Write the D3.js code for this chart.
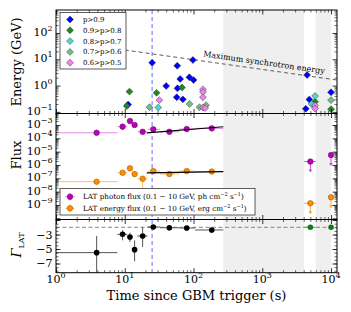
<!DOCTYPE html>
<html lang="en">
<head>
<meta charset="UTF-8">
<title>LAT light curve</title>
<script src="https://d3js.org/d3.v7.min.js"></script>
<style>
body{margin:0;background:#fff}
text{font-family:"DejaVu Serif",serif;fill:#000}
</style>
</head>
<body>
<script>
// ---- data ----
const gapRanges = [[271, 4050], [5990, 10000]];
const triggerT = 25;
const syncLine = [[10, 22.6], [12200, 1.63]];

const probLabels = ["p>0.9", "0.9>p>0.8", "0.8>p>0.7", "0.7>p>0.6", "0.6>p>0.5"];
const probColors = ["#0000ff", "#1e8a1e", "#4fd6d0", "#72bf82", "#ee82ee"];
const energyP09 = [[25,7.4],[58,5.7],[98,9.4],[40,0.97],[64,1.78],[87,2.07],[100,1.63],[58.5,0.79],[57,0.36],[70,0.30],[11.2,0.19],[4480,2.53],[4830,0.295],[4290,0.132],[10000,0.556]];
const energyP08 = [[11.7,0.59],[29,0.53],[10.7,0.167],[68,0.85],[5850,0.244],[10000,0.126]];
const energyP07 = [[30.7,0.147],[5850,0.40],[5200,0.20]];
const energyP06 = [[22.9,0.15],[87.5,0.20],[122,0.15],[152,0.18],[10000,0.28]];
const energyP05 = [[31.8,0.28],[137,0.72],[137,0.57],[137,0.36],[137,0.147],[147,0.14],[5850,0.175],[5850,0.135]];
const energySets = [energyP09, energyP08, energyP07, energyP06, energyP05];

const binT   = [3.9, 9.3, 11.9, 13.9, 18.2, 26, 44.5, 79.6, 184];
const binLo  = [0.1, 7.8, 10.9, 12.9, 15.2, 21.5, 32.6, 62, 105];
const binHi  = [7.8, 10.9, 12.9, 15.2, 21.5, 32.6, 62, 105, 271];
const phFlux = [2.6e-4, 7.5e-4, 2.0e-3, 1.0e-3, 3.1e-4, 4.7e-4, 3.1e-4, 5.0e-4, 5.6e-4];
const phLo   = [1.8e-4, 5.6e-4, 1.5e-3, 7.5e-4, 2.0e-4, 3.8e-4, 2.5e-4, 4.1e-4, 4.6e-4];
const phHi   = [3.5e-4, 1.0e-3, 2.6e-3, 1.3e-3, 4.4e-4, 5.8e-4, 3.8e-4, 6.1e-4, 6.8e-4];
const enFlux = [5.6e-8, 2.6e-7, 5.6e-7, 2.1e-7, 9.3e-8, 3.5e-7, 2.1e-7, 3.5e-7, 3.2e-7];
const enLo   = [3.5e-8, 1.8e-7, 4.0e-7, 1.3e-7, 1.3e-8, 2.8e-7, 1.6e-7, 2.8e-7, 2.6e-7];
const enHi   = [8.5e-8, 3.6e-7, 7.6e-7, 3.2e-7, 1.5e-7, 4.4e-7, 2.7e-7, 4.4e-7, 4.0e-7];
const gamma   = [-5.5, -2.97, -3.34, -5.09, -3.2, -1.96, -2.06, -2.1, -2.37];
const gammaLo = [-9.5, -3.8, -4.03, -6.7, -4.72, -2.3, -2.35, -2.4, -2.7];
const gammaHi = [-3.2, -2.41, -2.75, -3.8, -1.96, -1.7, -1.8, -1.85, -2.1];

const phFit = [[20.9, 2.6e-4], [271, 7.4e-4]];
const enFit = [[20.9, 2.6e-7], [271, 3.2e-7]];

const ulT   = [5000, 10000];
const ulLo  = [4050, 9800];
const ulHi  = [5990, 10200];
const phUL  = [1.8e-6, 5.6e-6];
const enUL  = [1.35e-9, 3.8e-9];
const gammaFixed = -2;

// ---- layout ----
const W = 351, H = 312;
const L = 56, R = 337;
const P = {top: [10, 113.5], mid: [113.5, 219.5], bot: [219.5, 272.7]};

const svg = d3.select("body").append("svg").attr("width", W).attr("height", H);

const x = d3.scaleLog().domain([1, 12200]).range([L, R]);
const yE = d3.scaleLog().domain([Math.pow(10, -1.061), Math.pow(10, 2.8745)]).range([P.top[1], P.top[0]]);
const yF = d3.scaleLog().domain([Math.pow(10, -10.089), Math.pow(10, -2.137)]).range([P.mid[1], P.mid[0]]);
const yG = d3.scaleLinear().domain([-8.271, -0.923]).range([P.bot[1], P.bot[0]]);

function logMinors(lo, hi) {
  var out = [];
  for (var k = Math.floor(Math.log10(lo)); k <= Math.ceil(Math.log10(hi)); k++)
    for (var m = 2; m < 10; m++) {
      var v = m * Math.pow(10, k);
      if (v >= lo && v <= hi) out.push(v);
    }
  return out;
}
function decades(lo, hi) {
  var out = [];
  for (var k = Math.ceil(Math.log10(lo)); k <= Math.floor(Math.log10(hi)); k++) out.push(Math.pow(10, k));
  return out;
}

// clip paths
const defs = svg.append("defs");
Object.keys(P).forEach(function(k) {
  defs.append("clipPath").attr("id", "clip-" + k).append("rect")
    .attr("x", L).attr("y", P[k][0]).attr("width", R - L).attr("height", P[k][1] - P[k][0]);
});

// shaded gaps and trigger line span all panels, behind the data
const bg = svg.append("g");
gapRanges.forEach(function(g) {
  bg.append("rect").attr("x", x(g[0])).attr("y", P.top[0]).attr("width", x(g[1]) - x(g[0]))
    .attr("height", P.bot[1] - P.top[0]).attr("fill", "#efefef");
});
bg.append("line").attr("x1", x(triggerT)).attr("x2", x(triggerT)).attr("y1", P.top[0]).attr("y2", P.bot[1])
  .attr("stroke", "#8c8cff").attr("stroke-width", 1.3).attr("stroke-dasharray", "4,3");

function panelGroup(k) { return svg.append("g").attr("clip-path", "url(#clip-" + k + ")"); }

function drawAxes(y0, y1, yScale, yMaj, yMin) {
  var g = svg.append("g");
  var xMaj = decades(1, 12200), xMin = logMinors(1, 12200);
  [[d3.axisBottom, y1], [d3.axisTop, y0]].forEach(function(a) {
    [[xMaj, 4.5, 0.8], [xMin, 2.5, 0.6]].forEach(function(t) {
      var ax = g.append("g").attr("transform", "translate(0," + a[1] + ")")
        .call(a[0](x).tickValues(t[0]).tickSize(-t[1]).tickFormat(""));
      ax.select(".domain").remove();
      ax.selectAll("line").attr("stroke-width", t[2]);
    });
  });
  [[d3.axisLeft, L], [d3.axisRight, R]].forEach(function(a) {
    [[yMaj, 4.5, 0.8], [yMin, 2.5, 0.6]].forEach(function(t) {
      var ax = g.append("g").attr("transform", "translate(" + a[1] + ",0)")
        .call(a[0](yScale).tickValues(t[0]).tickSize(-t[1]).tickFormat(""));
      ax.select(".domain").remove();
      ax.selectAll("line").attr("stroke-width", t[2]);
    });
  });
  g.append("rect").attr("x", L).attr("y", y0).attr("width", R - L).attr("height", y1 - y0)
    .attr("fill", "none").attr("stroke", "#000").attr("stroke-width", 1);
}

function powLabel(xp, yp, exp, anchor) {
  var t = svg.append("text").attr("x", xp).attr("y", yp).attr("text-anchor", anchor).attr("font-size", 11);
  t.append("tspan").text("10");
  t.append("tspan").attr("dy", -5).attr("font-size", 8).text(exp < 0 ? "\u2212" + (-exp) : exp);
}

// ---------- top panel : photon energies ----------
const gTop = panelGroup("top");
gTop.append("path")
  .attr("d", d3.line().x(function(d) { return x(d[0]); }).y(function(d) { return yE(d[1]); })(syncLine))
  .attr("fill", "none").attr("stroke", "#333").attr("stroke-width", 0.8).attr("stroke-dasharray", "4,3");

const diamond = d3.symbol().type(d3.symbolSquare).size(24);
energySets.forEach(function(set, i) {
  gTop.selectAll(".p" + i).data(set).enter().append("path")
    .attr("d", diamond)
    .attr("transform", function(d) { return "translate(" + x(d[0]) + "," + yE(d[1]) + ") rotate(45)"; })
    .attr("fill", probColors[i]).attr("stroke", "#222").attr("stroke-width", 0.4);
});

// rotated label along the synchrotron line
(function() {
  var p0 = [x(syncLine[0][0]), yE(syncLine[0][1])], p1 = [x(syncLine[1][0]), yE(syncLine[1][1])];
  var ang = Math.atan2(p1[1] - p0[1], p1[0] - p0[0]);
  var sx = 203, sy = p0[1] + (sx - p0[0]) * Math.tan(ang) - 4.5;
  svg.append("text").attr("transform", "translate(" + sx + "," + sy + ") rotate(" + (ang * 180 / Math.PI) + ")")
    .attr("font-size", 8).text("Maximum synchrotron energy");
})();

// ---------- middle panel : fluxes ----------
const gMid = panelGroup("mid");
function fluxSeries(vals, lo, hi, fill, edge, errc) {
  binT.forEach(function(t, i) {
    gMid.append("line").attr("x1", x(binLo[i])).attr("x2", x(binHi[i])).attr("y1", yF(vals[i])).attr("y2", yF(vals[i]))
      .attr("stroke", errc).attr("stroke-width", 1);
    gMid.append("line").attr("x1", x(t)).attr("x2", x(t)).attr("y1", yF(lo[i])).attr("y2", yF(hi[i]))
      .attr("stroke", errc).attr("stroke-width", 1);
  });
  gMid.selectAll(null).data(binT).enter().append("circle")
    .attr("cx", function(d) { return x(d); }).attr("cy", function(d, i) { return yF(vals[i]); })
    .attr("r", 2.8).attr("fill", fill).attr("stroke", edge).attr("stroke-width", 0.5);
}
function fitLine(pts) {
  gMid.append("path").attr("d", d3.line().x(function(d) { return x(d[0]); }).y(function(d) { return yF(d[1]); })(pts))
    .attr("fill", "none").attr("stroke", "#000").attr("stroke-width", 1.2);
}
function ulSeries(vals, fill, edge, errc) {
  ulT.forEach(function(t, i) {
    var cx = x(t), cy = yF(vals[i]);
    gMid.append("line").attr("x1", x(ulLo[i])).attr("x2", x(ulHi[i])).attr("y1", cy).attr("y2", cy)
      .attr("stroke", errc).attr("stroke-width", 1);
    gMid.append("line").attr("x1", cx).attr("x2", cx).attr("y1", cy).attr("y2", cy + 9)
      .attr("stroke", errc).attr("stroke-width", 1);
    gMid.append("path").attr("d", "M" + (cx - 2) + "," + (cy + 8) + "L" + (cx + 2) + "," + (cy + 8) + "L" + cx + "," + (cy + 11) + "Z")
      .attr("fill", errc);
    gMid.append("circle").attr("cx", cx).attr("cy", cy).attr("r", 2.8)
      .attr("fill", fill).attr("stroke", edge).attr("stroke-width", 0.5);
  });
}
fluxSeries(phFlux, phLo, phHi, "#bb00bb", "#660066", "#e58ae5");
fluxSeries(enFlux, enLo, enHi, "#ff8c00", "#995200", "#ffbb70");
fitLine(phFit);
fitLine(enFit);
ulSeries(phUL, "#bb00bb", "#660066", "#d250d2");
ulSeries(enUL, "#ff8c00", "#995200", "#ffa640");

// ---------- bottom panel : photon index ----------
const gBot = panelGroup("bot");
gBot.append("line").attr("x1", L).attr("x2", R).attr("y1", yG(gammaFixed)).attr("y2", yG(gammaFixed))
  .attr("stroke", "#777").attr("stroke-width", 0.9).attr("stroke-dasharray", "4,2.5");
binT.forEach(function(t, i) {
  gBot.append("line").attr("x1", x(binLo[i])).attr("x2", x(binHi[i])).attr("y1", yG(gamma[i])).attr("y2", yG(gamma[i]))
    .attr("stroke", "#555").attr("stroke-width", 1);
  gBot.append("line").attr("x1", x(t)).attr("x2", x(t)).attr("y1", yG(gammaLo[i])).attr("y2", yG(gammaHi[i]))
    .attr("stroke", "#555").attr("stroke-width", 1);
});
gBot.selectAll(null).data(binT).enter().append("circle")
  .attr("cx", function(d) { return x(d); }).attr("cy", function(d, i) { return yG(gamma[i]); })
  .attr("r", 2.8).attr("fill", "#000");
ulT.forEach(function(t, i) {
  gBot.append("line").attr("x1", x(ulLo[i])).attr("x2", x(ulHi[i])).attr("y1", yG(gammaFixed)).attr("y2", yG(gammaFixed))
    .attr("stroke", "#6aa86a").attr("stroke-width", 1);
  gBot.append("circle").attr("cx", x(t)).attr("cy", yG(gammaFixed)).attr("r", 2.8).attr("fill", "#137a13");
});

// ---------- axes ----------
drawAxes(P.top[0], P.top[1], yE, decades(yE.domain()[0], yE.domain()[1]), logMinors(yE.domain()[0], yE.domain()[1]));
drawAxes(P.mid[0], P.mid[1], yF, decades(yF.domain()[0], yF.domain()[1]), logMinors(yF.domain()[0], yF.domain()[1]));
drawAxes(P.bot[0], P.bot[1], yG, [-7, -5, -3, -1], d3.range(-8, -0.9, 0.5));

[0, 1, 2, 3, 4].forEach(function(k) { powLabel(x(Math.pow(10, k)), 283, k, "middle"); });
[-1, 0, 1, 2].forEach(function(k) { powLabel(52.5, yE(Math.pow(10, k)) + 3, k, "end"); });
[-3, -4, -5, -6, -7, -8, -9].forEach(function(k) { powLabel(52.5, yF(Math.pow(10, k)) + 3, k, "end"); });
[-3, -5, -7].forEach(function(v) {
  svg.append("text").attr("x", 52.5).attr("y", yG(v) + 4).attr("text-anchor", "end").attr("font-size", 11)
    .text("\u2212" + (-v));
});

// axis titles
svg.append("text").attr("x", (L + R) / 2).attr("y", 299.5).attr("text-anchor", "middle").attr("font-size", 13)
  .text("Time since GBM trigger (s)");
svg.append("text").attr("transform", "translate(21,62) rotate(-90)").attr("text-anchor", "middle").attr("font-size", 13)
  .text("Energy (GeV)");
svg.append("text").attr("transform", "translate(21,155) rotate(-90)").attr("text-anchor", "middle").attr("font-size", 13)
  .text("Flux");
(function() {
  var t = svg.append("text").attr("transform", "translate(21,245) rotate(-90)").attr("text-anchor", "middle").attr("font-size", 13);
  t.append("tspan").attr("font-style", "italic").text("\u0393");
  t.append("tspan").attr("font-size", 8).attr("dy", 3).text("LAT");
})();

// ---------- legends ----------
const leg1 = svg.append("g");
leg1.append("rect").attr("x", 60).attr("y", 12.5).attr("width", 66).attr("height", 56.5)
  .attr("fill", "#fff").attr("stroke", "#333").attr("stroke-width", 0.8);
probLabels.forEach(function(lab, i) {
  var yy = 19.5 + i * 10.8;
  leg1.append("path").attr("d", diamond).attr("transform", "translate(70," + yy + ") rotate(45)")
    .attr("fill", probColors[i]).attr("stroke", "#222").attr("stroke-width", 0.4);
  leg1.append("text").attr("x", 83).attr("y", yy + 2.5).attr("font-size", 7).text(lab);
});

const leg2 = svg.append("g");
leg2.append("rect").attr("x", 60).attr("y", 188.5).attr("width", 195).attr("height", 26.5)
  .attr("fill", "#fff").attr("stroke", "#333").attr("stroke-width", 0.8);
[["photon", "ph", "#bb00bb", "#660066", "#e58ae5"], ["energy", "erg", "#ff8c00", "#995200", "#ffbb70"]].forEach(function(e, i) {
  var yy = 196.7 + i * 11.6;
  leg2.append("line").attr("x1", 65).attr("x2", 75).attr("y1", yy).attr("y2", yy).attr("stroke", e[4]);
  leg2.append("line").attr("x1", 70).attr("x2", 70).attr("y1", yy - 4).attr("y2", yy + 4).attr("stroke", e[4]);
  leg2.append("circle").attr("cx", 70).attr("cy", yy).attr("r", 2.8).attr("fill", e[2]).attr("stroke", e[3]).attr("stroke-width", 0.5);
  var t = leg2.append("text").attr("x", 83).attr("y", yy + 2.5).attr("font-size", 7.2);
  t.append("tspan").text("LAT " + e[0] + " flux (0.1 \u2212 10 GeV, " + e[1] + " cm");
  t.append("tspan").attr("dy", -3).attr("font-size", 5).text("\u22122");
  t.append("tspan").attr("dy", 3).text(" s");
  t.append("tspan").attr("dy", -3).attr("font-size", 5).text("\u22121");
  t.append("tspan").attr("dy", 3).text(")");
});
</script>
</body>
</html>
